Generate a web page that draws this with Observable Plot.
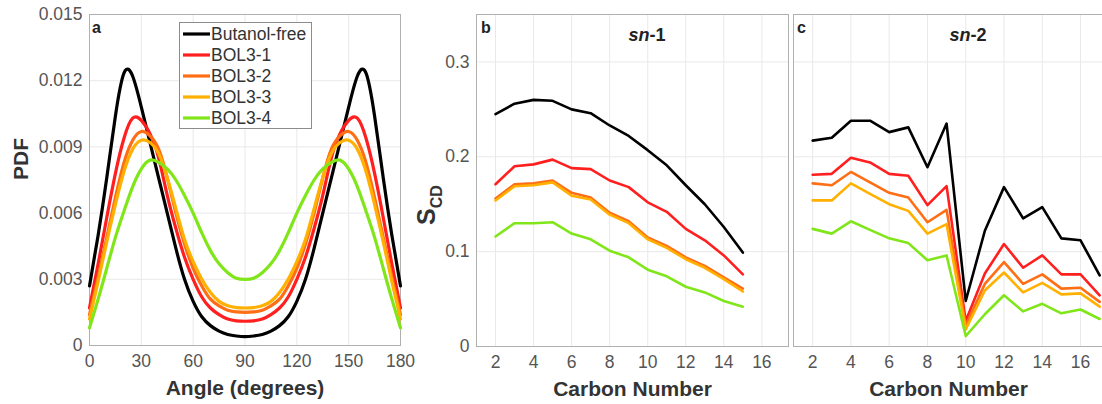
<!DOCTYPE html>
<html>
<head>
<meta charset="utf-8">
<script src="https://cdn.jsdelivr.net/npm/d3@7"></script>
<script src="https://cdn.jsdelivr.net/npm/@observablehq/plot@0.6"></script>
<style>
  body { margin: 0; background: #fff; }
  #chart { position: relative; width: 1102px; height: 404px; overflow: hidden; background: #fff;
           font-family: "Liberation Sans", Arial, Helvetica, sans-serif; }
  #chart svg { position: absolute; top: 0; }
</style>
</head>
<body>
<div id="chart"></div>
<script>
// ---------- Data ----------
const seriesNames = ["Butanol-free", "BOL3-1", "BOL3-2", "BOL3-3", "BOL3-4"];
const seriesColors = ["#000000", "#ff1f1f", "#ff6e14", "#ffb000", "#80e619"];

// Panel a: angle distribution
const angles = [0,5,10,15,20,25,30,35,40,45,50,55,60,65,70,75,80,85,90,95,100,105,110,115,120,125,130,135,140,145,150,155,160,165,170,175,180];
const pdfButanolFree = [0.0027,0.0050,0.0076,0.0104,0.01235,0.0122,0.0108,0.0092,0.0076,0.0060,0.0044,0.0030,0.0020,0.0013,0.0009,0.00065,0.0005,0.00043,0.0004,
                        0.00043,0.0005,0.00065,0.0009,0.0013,0.0020,0.0030,0.0044,0.0060,0.0076,0.0092,0.0108,0.0122,0.01235,0.0104,0.0076,0.0050,0.0027];
const pdfBOL31 = [0.0017,0.0037,0.0058,0.0078,0.0094,0.0103,0.0102,0.0096,0.0085,0.0068,0.0053,0.0040,0.0030,0.0022,0.0017,0.0014,0.0012,0.00112,0.0011,
                  0.00112,0.0012,0.0014,0.0017,0.0022,0.0030,0.0040,0.0053,0.0068,0.0085,0.0096,0.0102,0.0103,0.0094,0.0078,0.0058,0.0037,0.0017];
const pdfBOL32 = [0.0014,0.0031,0.0049,0.0067,0.0083,0.0093,0.0097,0.0095,0.0089,0.0076,0.0060,0.0046,0.0035,0.0027,0.0021,0.0018,0.0016,0.00152,0.0015,
                  0.00152,0.0016,0.0018,0.0021,0.0027,0.0035,0.0046,0.0060,0.0076,0.0089,0.0095,0.0097,0.0093,0.0083,0.0067,0.0049,0.0031,0.0014];
const pdfBOL33 = [0.0012,0.0029,0.0047,0.0064,0.0079,0.0089,0.0093,0.0092,0.0087,0.0076,0.0062,0.0048,0.0038,0.0030,0.0024,0.0020,0.0018,0.00172,0.0017,
                  0.00172,0.0018,0.0020,0.0024,0.0030,0.0038,0.0048,0.0062,0.0076,0.0087,0.0092,0.0093,0.0089,0.0079,0.0064,0.0047,0.0029,0.0012];
const pdfBOL34 = [0.0008,0.0021,0.0035,0.0049,0.0061,0.0072,0.0080,0.0084,0.0083,0.0080,0.0075,0.0068,0.0060,0.0051,0.0043,0.0037,0.0033,0.00305,0.0030,
                  0.00305,0.0033,0.0037,0.0043,0.0051,0.0060,0.0068,0.0075,0.0080,0.0083,0.0084,0.0080,0.0072,0.0061,0.0049,0.0035,0.0021,0.0008];

// Panel b: sn-1 order parameters
const sn1Carbons = [2,3,4,5,6,7,8,9,10,11,12,13,14,15];
const sn1ButanolFree = [0.245,0.256,0.260,0.259,0.250,0.246,0.233,0.222,0.207,0.191,0.170,0.150,0.126,0.099];
const sn1BOL31 = [0.171,0.190,0.192,0.197,0.188,0.187,0.175,0.168,0.152,0.142,0.124,0.112,0.096,0.076];
const sn1BOL32 = [0.156,0.171,0.172,0.175,0.162,0.157,0.141,0.132,0.115,0.106,0.094,0.085,0.073,0.061];
const sn1BOL33 = [0.154,0.169,0.170,0.173,0.159,0.155,0.139,0.130,0.113,0.104,0.092,0.083,0.071,0.058];
const sn1BOL34 = [0.116,0.130,0.130,0.131,0.119,0.113,0.101,0.094,0.081,0.074,0.063,0.057,0.048,0.042];

// Panel c: sn-2 order parameters
const sn2Carbons = [2,3,4,5,6,7,8,9,10,11,12,13,14,15,16,17];
const sn2ButanolFree = [0.217,0.220,0.238,0.238,0.226,0.231,0.189,0.235,0.048,0.122,0.168,0.135,0.147,0.114,0.112,0.075];
const sn2BOL31 = [0.181,0.182,0.199,0.194,0.182,0.180,0.149,0.169,0.027,0.077,0.108,0.083,0.096,0.076,0.076,0.054];
const sn2BOL32 = [0.172,0.170,0.184,0.173,0.162,0.157,0.131,0.144,0.022,0.066,0.089,0.066,0.076,0.061,0.062,0.047];
const sn2BOL33 = [0.154,0.154,0.172,0.161,0.150,0.143,0.119,0.129,0.018,0.059,0.078,0.057,0.067,0.055,0.056,0.042];
const sn2BOL34 = [0.124,0.119,0.132,0.123,0.114,0.109,0.091,0.096,0.011,0.034,0.054,0.037,0.045,0.035,0.039,0.029];

// Tick labels
const angleTicks = [0,30,60,90,120,150,180];
const pdfTicks = [0,0.003,0.006,0.009,0.012,0.015];
const carbonTicks = [2,4,6,8,10,12,14,16];
const scdTicks = [0,0.1,0.2,0.3];

// ---------- Helpers ----------
function toRows(xs, seriesArrays) {
  const rows = [];
  seriesArrays.forEach((ys, i) => xs.forEach((x, j) => rows.push({x, y: ys[j], series: seriesNames[i]})));
  return rows;
}
const FONT = '"Liberation Sans", Arial, Helvetica, sans-serif';
const TICK_COLOR = "#555";
const LABEL_COLOR = "#333";
const GRID = "#e9e9e9";
const FRAME = "#b0b0b0";
const colorScale = {domain: seriesNames, range: seriesColors};

const rowsA = toRows(angles, [pdfButanolFree, pdfBOL31, pdfBOL32, pdfBOL33, pdfBOL34]);
const rowsB = toRows(sn1Carbons, [sn1ButanolFree, sn1BOL31, sn1BOL32, sn1BOL33, sn1BOL34]);
const rowsC = toRows(sn2Carbons, [sn2ButanolFree, sn2BOL31, sn2BOL32, sn2BOL33, sn2BOL34]);

const chart = document.getElementById("chart");

function addText(svg, x, y, str, size, opts = {}) {
  return d3.select(svg).append("text").attr("x", x).attr("y", y)
    .attr("text-anchor", opts.anchor || "start").attr("font-family", FONT)
    .attr("font-size", size).attr("font-weight", opts.weight || "normal")
    .attr("fill", opts.fill || "#222").text(str);
}

// ---------- Panel a ----------
const svgA = Plot.plot({
  width: 420, height: 404,
  marginLeft: 89, marginRight: 20, marginTop: 14, marginBottom: 59,
  style: {background: "transparent", overflow: "visible", fontFamily: FONT},
  x: {domain: [0, 180]},
  y: {domain: [0, 0.015]},
  color: colorScale,
  marks: [
    Plot.gridX(angleTicks, {stroke: GRID, strokeOpacity: 1}),
    Plot.gridY(pdfTicks, {stroke: GRID, strokeOpacity: 1}),
    Plot.frame({stroke: FRAME}),
    Plot.axisX(angleTicks, {tickSize: 0, tickPadding: 9, fontSize: 17.5, fill: TICK_COLOR, label: null}),
    Plot.axisY(pdfTicks, {tickSize: 0, tickPadding: 7, fontSize: 17.5, fill: TICK_COLOR, label: null,
      tickFormat: d => d === 0 ? "0" : d.toFixed(3)}),
    Plot.line(rowsA, {x: "x", y: "y", stroke: "series", z: "series", strokeWidth: 3.2, curve: "natural"}),
    Plot.text(["Angle (degrees)"], {frameAnchor: "bottom", dy: 49, fontSize: 21, fontWeight: "bold", fill: LABEL_COLOR}),
    Plot.text(["PDF"], {frameAnchor: "left", dx: -68, rotate: -90, fontSize: 21, fontWeight: "bold", fill: LABEL_COLOR})
  ]
});
svgA.style.left = "0px";
chart.appendChild(svgA);

// legend + panel letter for a
(function () {
  const g = d3.select(svgA).append("g").attr("font-family", FONT).attr("text-anchor", "start");
  g.append("rect").attr("x", 179.5).attr("y", 22.5).attr("width", 132).attr("height", 106)
    .attr("fill", "#fff").attr("stroke", "#8c8c8c").attr("stroke-width", 1);
  seriesNames.forEach((name, i) => {
    const yy = 34 + i * 21;
    g.append("line").attr("x1", 183).attr("x2", 210).attr("y1", yy).attr("y2", yy)
      .attr("stroke", seriesColors[i]).attr("stroke-width", 3.2);
    g.append("text").attr("x", 211).attr("y", yy).attr("dy", "0.35em")
      .attr("font-size", 17.5).attr("fill", LABEL_COLOR).text(name);
  });
  addText(svgA, 92, 33, "a", 16, {weight: "bold"});
})();

// ---------- Panel b ----------
const svgB = Plot.plot({
  width: 400, height: 404,
  marginLeft: 76, marginRight: 12, marginTop: 14, marginBottom: 58,
  style: {background: "transparent", overflow: "visible", fontFamily: FONT},
  x: {domain: [1, 17.4]},
  y: {domain: [0, 0.35]},
  color: colorScale,
  marks: [
    Plot.gridX(carbonTicks, {stroke: GRID, strokeOpacity: 1}),
    Plot.gridY(scdTicks.slice(1), {stroke: GRID, strokeOpacity: 1}),
    Plot.frame({stroke: FRAME}),
    Plot.axisX(carbonTicks, {tickSize: 0, tickPadding: 9, fontSize: 17.5, fill: TICK_COLOR, label: null}),
    Plot.axisY(scdTicks, {tickSize: 0, tickPadding: 7, fontSize: 17.5, fill: TICK_COLOR, label: null,
      tickFormat: d => d === 0 ? "0" : d.toFixed(1)}),
    Plot.line(rowsB, {x: "x", y: "y", stroke: "series", z: "series", strokeWidth: 2.6}),
    Plot.text(["Carbon Number"], {frameAnchor: "bottom", dy: 49, fontSize: 21, fontWeight: "bold", fill: LABEL_COLOR})
  ]
});
svgB.style.left = "400px";
chart.appendChild(svgB);

(function () {
  const s = d3.select(svgB);
  addText(svgB, 81, 33, "b", 16, {weight: "bold"});
  const t = s.append("text").attr("x", 247).attr("y", 41).attr("text-anchor", "middle")
    .attr("font-family", FONT).attr("font-size", 18).attr("font-weight", "bold").attr("fill", "#222");
  t.append("tspan").attr("font-style", "italic").text("sn");
  t.append("tspan").text("-1");
  const lab = s.append("text").attr("transform", "translate(35,205) rotate(-90)")
    .attr("text-anchor", "middle").attr("font-family", FONT).attr("font-weight", "bold").attr("fill", LABEL_COLOR);
  lab.append("tspan").attr("font-size", 25).text("S");
  lab.append("tspan").attr("font-size", 16).attr("dy", 7).text("CD");
})();

// ---------- Panel c ----------
const svgC = Plot.plot({
  width: 330, height: 404,
  marginLeft: 13, marginRight: 7, marginTop: 14, marginBottom: 58,
  style: {background: "transparent", overflow: "visible", fontFamily: FONT},
  x: {domain: [1, 17.2]},
  y: {domain: [0, 0.35], axis: null},
  color: colorScale,
  marks: [
    Plot.gridX(carbonTicks, {stroke: GRID, strokeOpacity: 1}),
    Plot.gridY(scdTicks.slice(1), {stroke: GRID, strokeOpacity: 1}),
    Plot.frame({stroke: FRAME}),
    Plot.axisX(carbonTicks, {tickSize: 0, tickPadding: 9, fontSize: 17.5, fill: TICK_COLOR, label: null}),
    Plot.line(rowsC, {x: "x", y: "y", stroke: "series", z: "series", strokeWidth: 2.6}),
    Plot.text(["Carbon Number"], {frameAnchor: "bottom", dy: 49, fontSize: 21, fontWeight: "bold", fill: LABEL_COLOR})
  ]
});
svgC.style.left = "780px";
chart.appendChild(svgC);

(function () {
  const s = d3.select(svgC);
  addText(svgC, 17, 33, "c", 16, {weight: "bold"});
  const t = s.append("text").attr("x", 188).attr("y", 41).attr("text-anchor", "middle")
    .attr("font-family", FONT).attr("font-size", 18).attr("font-weight", "bold").attr("fill", "#222");
  t.append("tspan").attr("font-style", "italic").text("sn");
  t.append("tspan").text("-2");
})();
</script>
</body>
</html>
